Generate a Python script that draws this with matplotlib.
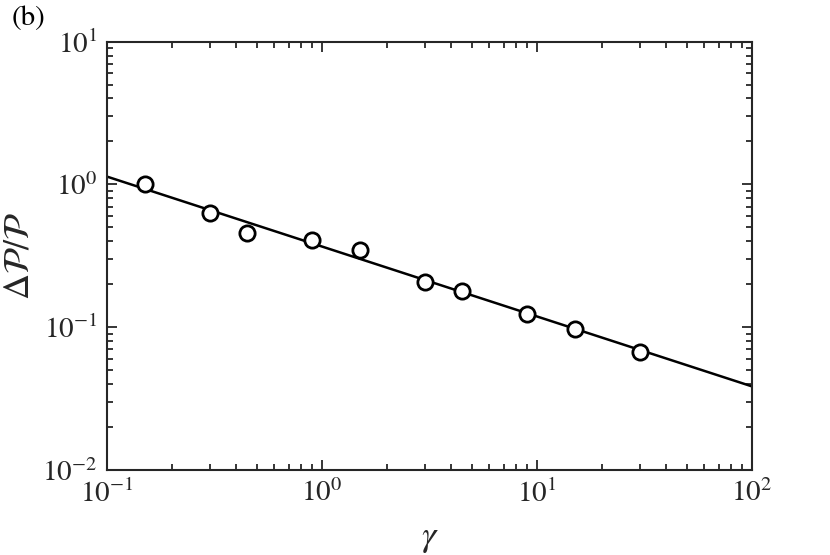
import matplotlib
matplotlib.use('Agg')
from matplotlib import pyplot as plt
from matplotlib.ticker import LogLocator, NullFormatter

# measured points
gamma = [0.15, 0.3, 0.45, 0.9, 1.5, 3, 4.5, 9, 15, 30]
dP = [1.0, 0.635, 0.46, 0.405, 0.35, 0.209, 0.178, 0.123, 0.0965, 0.0668]

# power-law fit line endpoints
fit_x = [0.1, 100]
fit_y = [1.135, 0.0385]

plt.rcParams['font.family'] = ['STIXGeneral', 'DejaVu Serif']
plt.rcParams['mathtext.fontset'] = 'stix'

fig = plt.figure(figsize=(8.3, 5.55), dpi=100)
ax = fig.add_axes([0.1289, 0.1532, 0.7771, 0.7717])

ax.plot(fit_x, fit_y, 'k-', lw=1.8)
ax.plot(gamma, dP, 'o', mfc='white', mec='k', ms=11, mew=2)

ax.set_xscale('log')
ax.set_yscale('log')
ax.set_xlim(0.1, 100)
ax.set_ylim(0.01, 10)

ax.xaxis.set_major_locator(LogLocator(base=10, numticks=10))
ax.yaxis.set_major_locator(LogLocator(base=10, numticks=10))
ax.xaxis.set_minor_locator(LogLocator(base=10, subs=range(2, 10), numticks=20))
ax.yaxis.set_minor_locator(LogLocator(base=10, subs=range(2, 10), numticks=20))
ax.xaxis.set_minor_formatter(NullFormatter())
ax.yaxis.set_minor_formatter(NullFormatter())

ax.tick_params(which='both', direction='in', top=True, right=True, width=1.3, labelsize=21, colors='#262626')
ax.tick_params(which='major', length=7, pad=7)
ax.tick_params(which='minor', length=4)
for s in ax.spines.values():
    s.set_linewidth(1.5)
    s.set_color('#262626')

ax.set_xlabel(r'$\gamma$', fontsize=26, color='#262626', labelpad=10)
ax.set_ylabel(r'$\Delta\mathcal{P}/\mathcal{P}$', fontsize=26, color='#262626', labelpad=4)
fig.text(0.014, 0.955, '(b)', fontsize=21)

fig.savefig('out.png', dpi=100)
